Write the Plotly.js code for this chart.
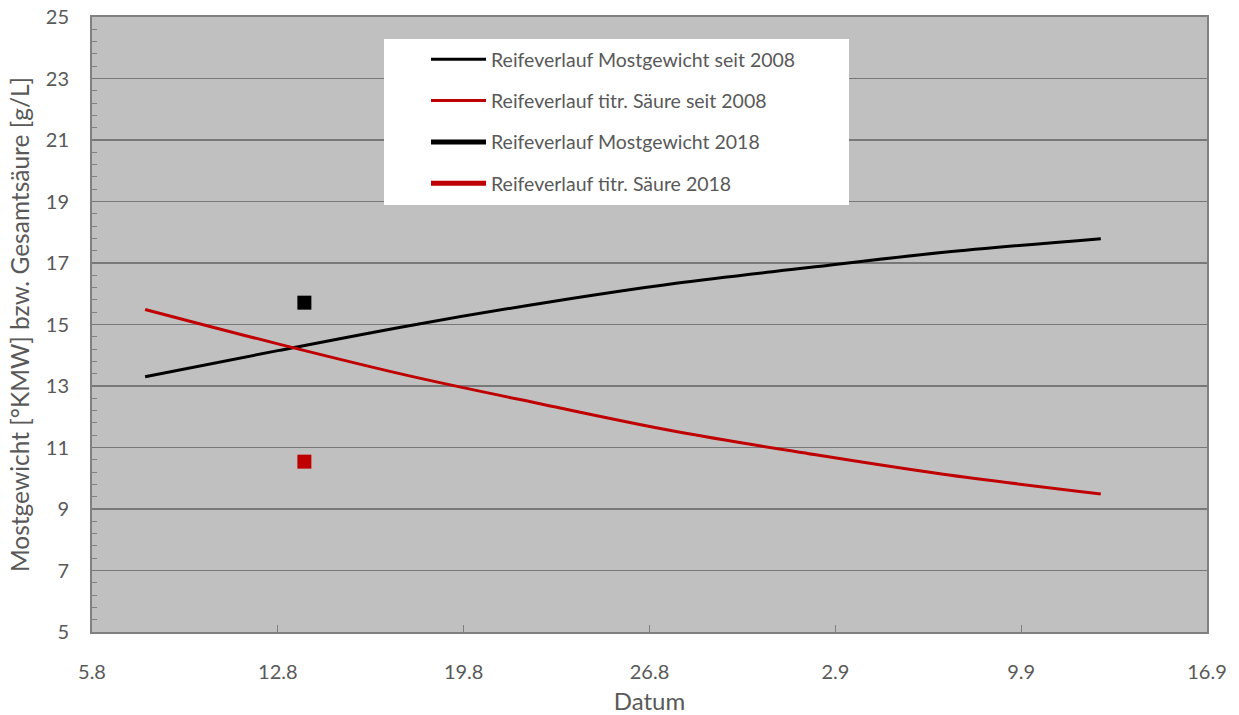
<!DOCTYPE html>
<html>
<head>
<meta charset="utf-8">
<script src="https://cdn.plot.ly/plotly-3.0.1.min.js"></script>
<style>html,body{margin:0;padding:0;background:#fff;}#chart{width:1239px;height:715px;}</style>
</head>
<body>
<div id="chart"></div>
<script>
// Data
const datesSeit2008 = ['2018-08-07','2018-08-12','2018-08-17','2018-08-22','2018-08-27','2018-09-01','2018-09-06','2018-09-12'];
const mostgewichtSeit2008 = [13.30, 14.15, 14.97, 15.70, 16.34, 16.85, 17.34, 17.79];
const saeureSeit2008 = [15.49, 14.37, 13.32, 12.40, 11.52, 10.80, 10.14, 9.49];
const dates2018 = ['2018-08-13'];
const mostgewicht2018 = [15.71];
const saeure2018 = [10.54];
const xTickVals = ['2018-08-05','2018-08-12','2018-08-19','2018-08-26','2018-09-02','2018-09-09','2018-09-16'];
const xTickText = ['5.8','12.8','19.8','26.8','2.9','9.9','16.9'];
const seriesNames = ['Reifeverlauf Mostgewicht seit 2008','Reifeverlauf titr. Säure seit 2008','Reifeverlauf Mostgewicht 2018','Reifeverlauf titr. Säure 2018'];

const BLACK = '#000000', RED = '#C00000';
const FONT = 'Lato, "Open Sans", sans-serif';
const TXT = '#595959';

const traces = [
  {x: datesSeit2008, y: mostgewichtSeit2008, name: seriesNames[0], legendgroup:'g1', mode:'lines', line:{color:BLACK, width:3, shape:'spline'}},
  {x: datesSeit2008, y: saeureSeit2008, name: seriesNames[1], legendgroup:'g2', mode:'lines', line:{color:RED, width:3, shape:'spline'}},
  {x: dates2018, y: mostgewicht2018, name: seriesNames[2], legendgroup:'g3', mode:'lines', line:{color:BLACK, width:5}},
  {x: dates2018, y: saeure2018, name: seriesNames[3], legendgroup:'g4', mode:'lines', line:{color:RED, width:5}},
  {x: dates2018, y: mostgewicht2018, legendgroup:'g3', showlegend:false, mode:'markers', marker:{symbol:'square', size:14, color:BLACK}},
  {x: dates2018, y: saeure2018, legendgroup:'g4', showlegend:false, mode:'markers', marker:{symbol:'square', size:14, color:RED}}
];

const L = 92, R = 1207, T = 17, B = 632, W = 1239, H = 715;
const px = v => (v - L) / (R - L);
const py = v => (B - v) / (B - T);

const layout = {
  width: W, height: H,
  margin: {l: L, r: W - R, t: T, b: H - B, pad: 0},
  paper_bgcolor: '#ffffff',
  plot_bgcolor: '#C0C0C0',
  font: {family: FONT, color: TXT, size: 20},
  showlegend: true,
  legend: {
    x: px(426), y: py(40), xanchor: 'left', yanchor: 'top',
    bgcolor: 'rgba(0,0,0,0)', borderwidth: 0,
    traceorder: 'grouped', tracegroupgap: 13, itemwidth: 55,
    font: {family: FONT, size: 19.5, color: TXT}
  },
  shapes: [
    {type:'rect', xref:'paper', yref:'paper', x0: px(384), x1: px(849), y0: py(205), y1: py(39), fillcolor:'#ffffff', line:{width:0}, layer:'above'}
  ],
  xaxis: {
    type: 'date',
    range: ['2018-08-05', '2018-09-16'],
    tickvals: xTickVals, ticktext: xTickText,
    ticks: 'inside', ticklen: 7, tickcolor: '#808080', tickwidth: 1,
    showgrid: false, zeroline: false,
    showline: true, linecolor: '#808080', linewidth: 2, mirror: true,
    tickfont: {family: FONT, size: 20, color: TXT},
    ticklabelstandoff: 21,
    title: {text: 'Datum', font: {family: FONT, size: 24, color: TXT}, standoff: 22}
  },
  yaxis: {
    range: [5, 25], tick0: 5, dtick: 2,
    ticks: '', showgrid: true, gridcolor: '#787878', gridwidth: 1.3,
    zeroline: false,
    showline: true, linecolor: '#808080', linewidth: 2, mirror: true,
    minor: {tick0: 5, dtick: 0.4, ticks: 'inside', ticklen: 5, tickcolor: '#808080', showgrid: false},
    tickfont: {family: FONT, size: 20, color: TXT},
    ticklabelstandoff: 17,
    title: {text: 'Mostgewicht [°KMW] bzw. Gesamtsäure [g/L]', font: {family: FONT, size: 24.5, color: TXT}, standoff: 9}
  }
};

Plotly.newPlot('chart', traces, layout, {displayModeBar: false, staticPlot: true});
</script>
</body>
</html>
